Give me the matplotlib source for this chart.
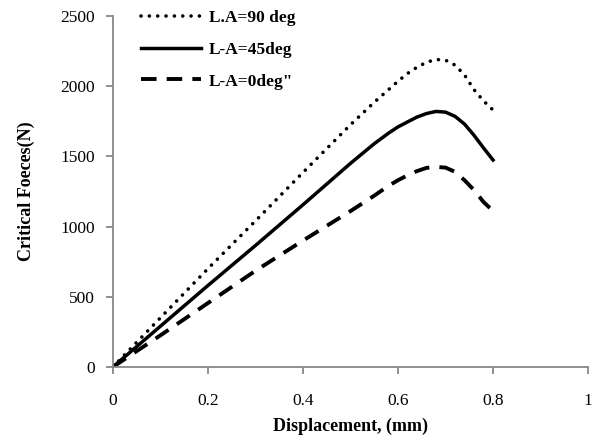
import matplotlib
matplotlib.use("Agg")
import matplotlib.pyplot as plt

x = [0, 0.1, 0.2, 0.3, 0.4, 0.5, 0.55, 0.58, 0.6, 0.62, 0.64, 0.66, 0.68, 0.7, 0.72, 0.74, 0.76, 0.78, 0.8]
la90 = [0, 350, 700, 1040, 1385, 1725, 1885, 1975, 2035, 2090, 2135, 2170, 2190, 2185, 2150, 2080, 1975, 1895, 1830]
la45 = [0, 290, 580, 865, 1155, 1450, 1590, 1665, 1710, 1745, 1780, 1805, 1820, 1815, 1785, 1730, 1650, 1560, 1474]
la0 = [0, 225, 455, 685, 900, 1110, 1220, 1290, 1330, 1365, 1395, 1418, 1425, 1420, 1390, 1330, 1260, 1175, 1111]
labels = ["L.A=90 deg", "L-A=45deg", "L-A=0deg\""]
xticks = [0, 0.2, 0.4, 0.6, 0.8, 1]
yticks = [0, 500, 1000, 1500, 2000, 2500]

plt.rcParams['font.family'] = ['Liberation Serif', 'DejaVu Serif']
fig = plt.figure(figsize=(5.94, 4.43), dpi=100)
ax = fig.add_axes([0.190, 0.1716, 0.800, 0.7924])

l1, = ax.plot(x, la90, color='black', lw=2.6, linestyle=(0, (0.01, 2.3)), label=labels[0])
l1.set_dash_capstyle('round')
ax.plot(x, la45, color='black', lw=2.5, linestyle='-', solid_joinstyle='round', label=labels[1])
ax.plot(x, la0, color='black', lw=2.8, linestyle=(0, (4, 2.6)), label=labels[2])

ax.set_xlim(0, 1)
ax.set_ylim(0, 2500)
ax.set_xticks(xticks)
ax.set_xticklabels([f"{t:g}" for t in xticks])
ax.set_yticks(yticks)
for s in ['top', 'right']:
    ax.spines[s].set_visible(False)
for s in ['left', 'bottom']:
    ax.spines[s].set_color('#888888')
    ax.spines[s].set_linewidth(1.3)
ax.tick_params(axis='both', colors='#888888', labelcolor='black', labelsize=12.5, length=5, width=1.3, direction='out')
ax.tick_params(axis='x', pad=14)
ax.tick_params(axis='y', pad=8)

ax.set_xlabel("Displacement, (mm)", fontsize=13, fontweight='bold', labelpad=6)
ax.set_ylabel("Critical Foeces(N)", fontsize=13, fontweight='bold', labelpad=18)

leg = ax.legend(loc='upper left', bbox_to_anchor=(0.027, 1.062), frameon=False,
                prop={'weight': 'bold', 'size': 12.5}, handlelength=3.45, handletextpad=0.45,
                labelspacing=0.9)

fig.savefig("out.png", dpi=100)
